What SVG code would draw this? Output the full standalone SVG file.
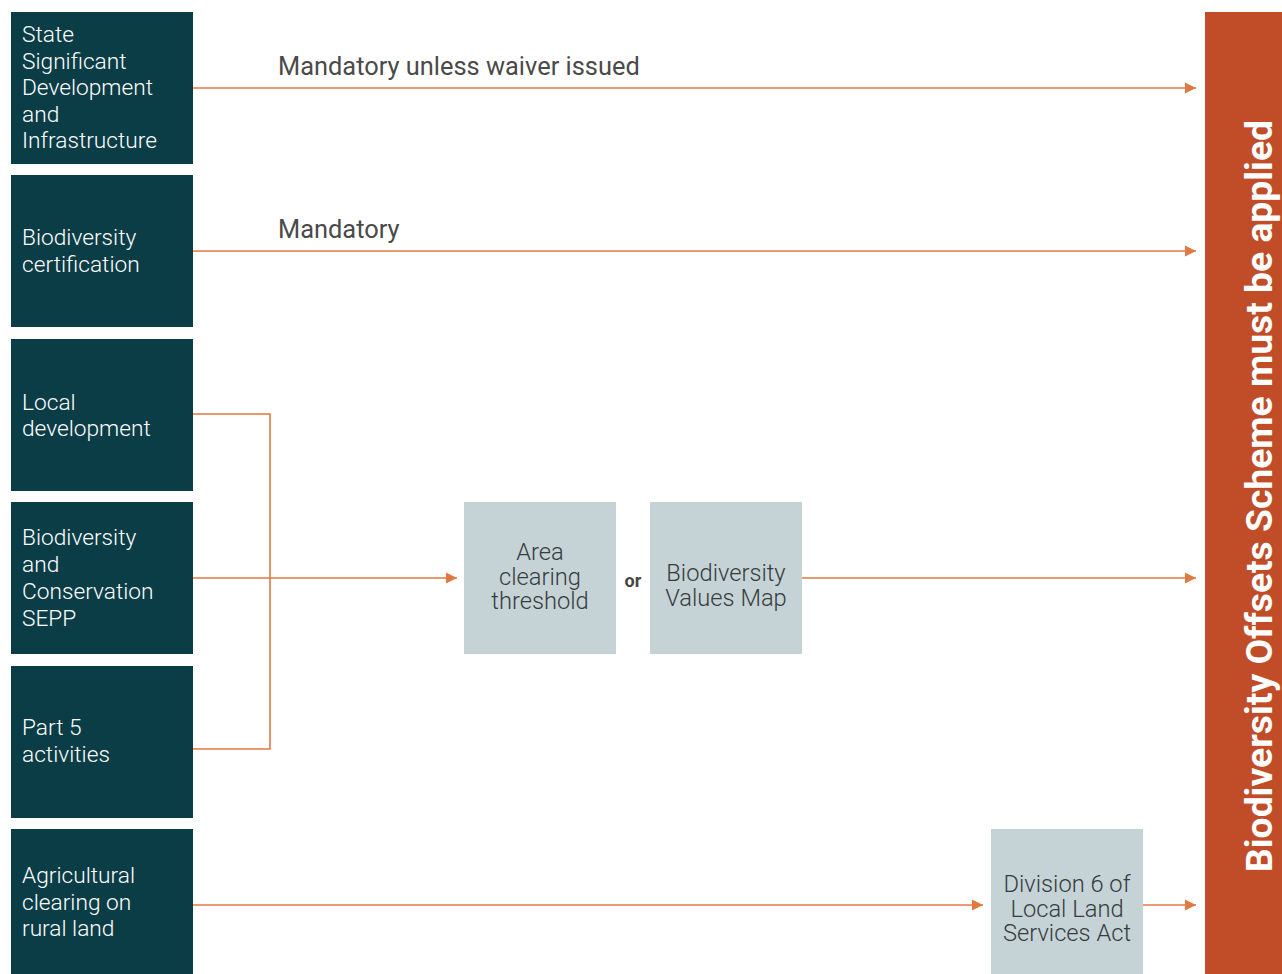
<svg xmlns="http://www.w3.org/2000/svg" width="1282" height="974" viewBox="0 0 1282 974">
<defs>
<style>
.src{fill:#0b3d47}
.src text{fill:#ffffff;font-family:Roboto,"Liberation Sans",sans-serif;font-weight:300;font-size:22.7px}
.step{fill:#c5d3d6}
.step text{fill:#363b3d;font-family:Roboto,"Liberation Sans",sans-serif;font-weight:300;font-size:23.7px;text-anchor:middle}
.lbl{fill:#4a4a4a;font-family:Roboto,"Liberation Sans",sans-serif;font-size:25.4px}
.conn{stroke:#e07a42;stroke-width:1.6;fill:none}
</style>
<marker id="arr" markerWidth="12" markerHeight="12" refX="11" refY="6" orient="auto" markerUnits="userSpaceOnUse">
<path d="M0,0.5 L11,6 L0,11.5 Z" fill="#e07a42"/>
</marker>
</defs>
<rect width="1282" height="974" fill="#ffffff"/>

<g id="n-ssd" class="src">
<rect x="11" y="12" width="182" height="152"/>
<text x="22" y="42">State</text>
<text x="22" y="68.5">Significant</text>
<text x="22" y="95">Development</text>
<text x="22" y="121.5">and</text>
<text x="22" y="148">Infrastructure</text>
</g>
<g id="n-cert" class="src">
<rect x="11" y="175" width="182" height="152"/>
<text x="22" y="245">Biodiversity</text>
<text x="22" y="272">certification</text>
</g>
<g id="n-local" class="src">
<rect x="11" y="339" width="182" height="152"/>
<text x="22" y="410">Local</text>
<text x="22" y="436">development</text>
</g>
<g id="n-sepp" class="src">
<rect x="11" y="502" width="182" height="152"/>
<text x="22" y="545">Biodiversity</text>
<text x="22" y="572">and</text>
<text x="22" y="599">Conservation</text>
<text x="22" y="626">SEPP</text>
</g>
<g id="n-part5" class="src">
<rect x="11" y="666" width="182" height="152"/>
<text x="22" y="735">Part 5</text>
<text x="22" y="762">activities</text>
</g>
<g id="n-agri" class="src">
<rect x="11" y="829" width="182" height="150"/>
<text x="22" y="883">Agricultural</text>
<text x="22" y="910">clearing on</text>
<text x="22" y="936">rural land</text>
</g>

<g id="n-area" class="step">
<rect x="464" y="502" width="152" height="152"/>
<text x="540" y="560">Area</text>
<text x="540" y="584.5">clearing</text>
<text x="540" y="609">threshold</text>
</g>
<g id="n-or">
<text x="633" y="587" text-anchor="middle" fill="#444444" font-family="Roboto,'Liberation Sans',sans-serif" font-weight="700" font-size="18">or</text>
</g>
<g id="n-bvm" class="step">
<rect x="650" y="502" width="152" height="152"/>
<text x="726" y="581">Biodiversity</text>
<text x="726" y="605.5">Values Map</text>
</g>
<g id="n-div6" class="step">
<rect x="991" y="829" width="152" height="150"/>
<text x="1067" y="892">Division 6 of</text>
<text x="1067" y="916.5">Local Land</text>
<text x="1067" y="941">Services Act</text>
</g>

<g id="n-bos">
<rect x="1205" y="12" width="77" height="967" fill="#c04d27"/>
<text transform="translate(1272,496) rotate(-90)" text-anchor="middle" fill="#ffffff" font-family="Roboto,'Liberation Sans',sans-serif" font-weight="700" font-size="36" textLength="752" lengthAdjust="spacingAndGlyphs">Biodiversity Offsets Scheme must be applied</text>
</g>

<g id="connectors">
<path class="conn" d="M193,88 H1196" marker-end="url(#arr)"/>
<text class="lbl" x="278" y="75">Mandatory unless waiver issued</text>
<path class="conn" d="M193,251 H1196" marker-end="url(#arr)"/>
<text class="lbl" x="278" y="238">Mandatory</text>
<path class="conn" d="M193,414 H270 V749 H193"/>
<path class="conn" d="M193,578 H457" marker-end="url(#arr)"/>
<path class="conn" d="M802,578 H1196" marker-end="url(#arr)"/>
<path class="conn" d="M193,905 H983" marker-end="url(#arr)"/>
<path class="conn" d="M1143,905 H1196" marker-end="url(#arr)"/>
</g>
</svg>
